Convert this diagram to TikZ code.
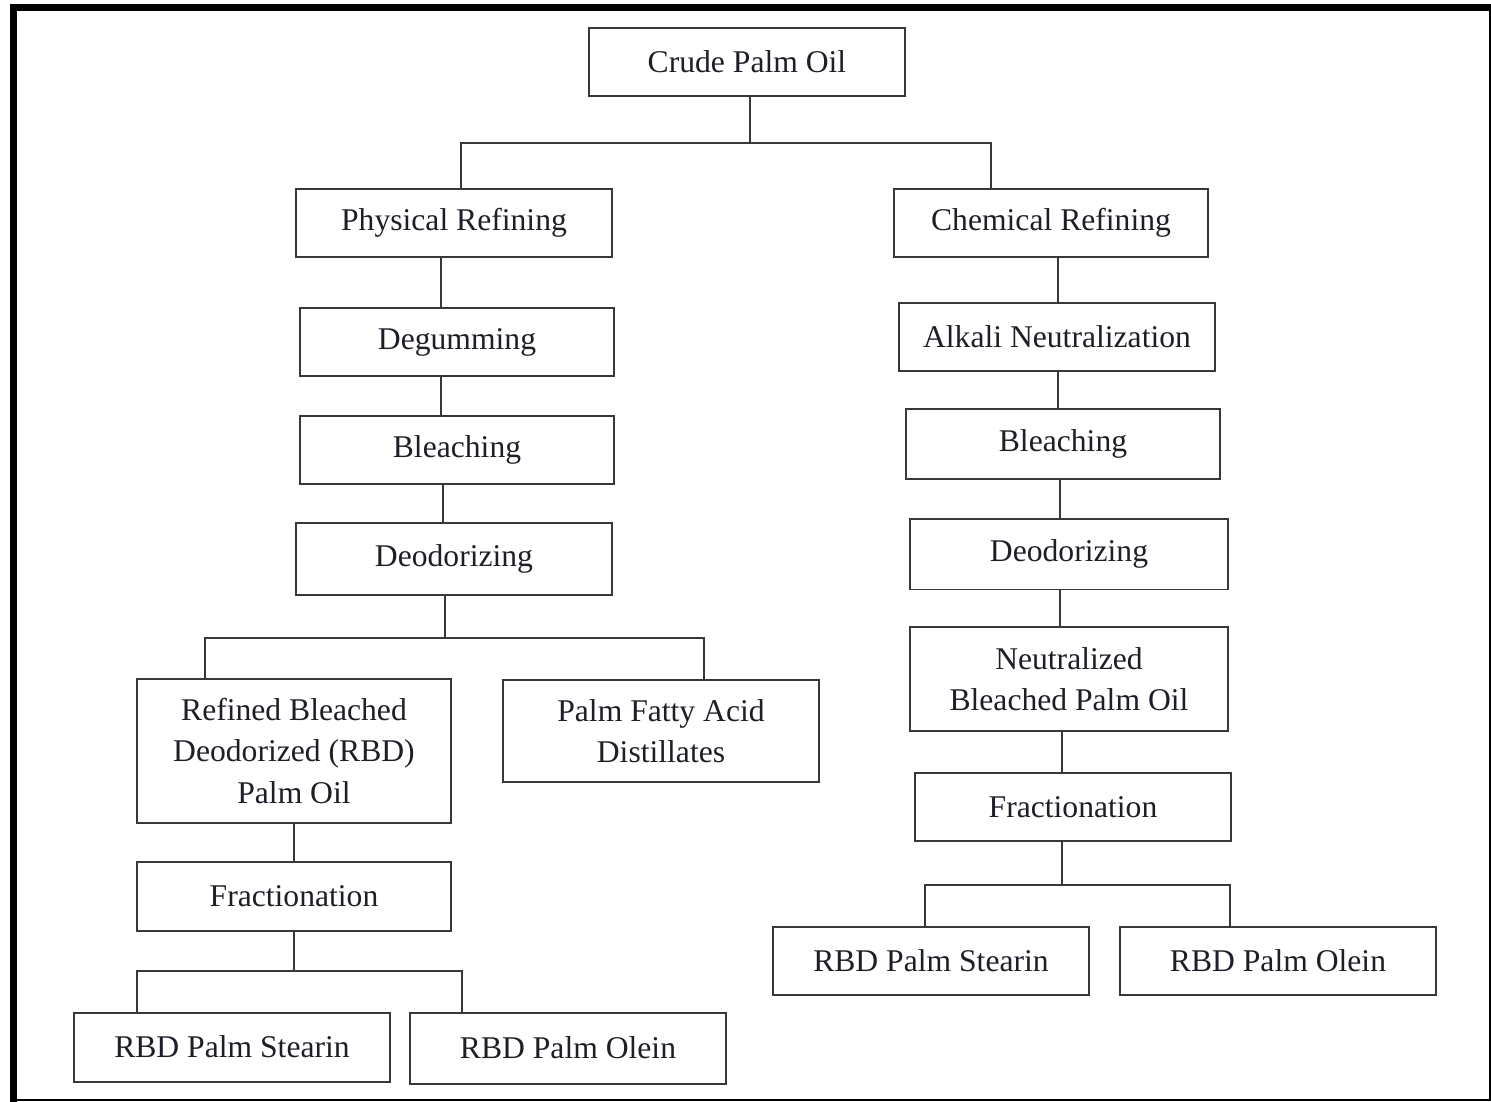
\documentclass[tikz,border=0pt]{standalone}
\usepackage{fontspec}
\setmainfont{Liberation Serif}
\definecolor{lineclr}{HTML}{383838}
\definecolor{txtclr}{HTML}{1E1E28}

\begin{document}
\begin{tikzpicture}[x=0.02cm,y=-0.02cm,
  stagebox/.style={draw=lineclr,line width=0.04cm,minimum width=6.34cm,
    minimum height=1.38cm,inner sep=0pt,align=center,text=txtclr,
    font=\fontsize{18}{23.5}\selectfont},
  link/.style={draw=lineclr,line width=0.04cm}]
\useasboundingbox (0,0) rectangle (1491,1102); % keep page size
% frame
\draw[line width=0.14cm] (13.5,1102) -- (13.5,7.5) -- (1491,7.5);
\draw[line width=0.03cm] (1490,7.5) -- (1490,1100) -- (13.5,1100);

\node[stagebox] (cpo) at (747,62) {Crude Palm Oil};
\node[stagebox] (phys) at (454,223) {Physical Refining};
\node[stagebox,minimum width=6.3cm] (chem) at (1051,223) {Chemical Refining};

% physical route
\node[stagebox,minimum width=6.3cm] (degum) at (457,342) {Degumming};
\node[stagebox,minimum width=6.3cm] (bleachL) at (457,450) {Bleaching};
\node[stagebox,minimum height=1.44cm] (deodL) at (454,559) {Deodorizing};
\node[stagebox,minimum width=6.3cm,minimum height=2.9cm] (rbd) at (294,751)
  {Refined Bleached\\Deodorized (RBD)\\Palm Oil};
\node[stagebox,minimum height=2.04cm] (pfad) at (661,731) {Palm Fatty Acid\\Distillates};
\node[stagebox,minimum width=6.3cm] (fracL) at (294,896) {Fractionation};
\node[stagebox] (stearinL) at (232,1047) {RBD Palm Stearin};
\node[stagebox,minimum height=1.42cm] (oleinL) at (568,1048) {RBD Palm Olein};

% chemical route
\node[stagebox] (alkali) at (1057,337) {Alkali Neutralization};
\node[stagebox,minimum width=6.3cm,minimum height=1.42cm] (bleachR) at (1063,444) {Bleaching};
\node[stagebox,minimum width=6.36cm,minimum height=1.42cm] (deodR) at (1069,554) {Deodorizing};
\node[stagebox,minimum width=6.36cm,minimum height=2.1cm] (nbpo) at (1069,679)
  {Neutralized\\Bleached Palm Oil};
\node[stagebox,minimum height=1.36cm] (fracR) at (1073,807) {Fractionation};
\node[stagebox,minimum height=1.36cm] (stearinR) at (931,961) {RBD Palm Stearin};
\node[stagebox,minimum height=1.36cm] (oleinR) at (1278,961) {RBD Palm Olein};

% connectors
\coordinate (j0) at (750,143);
\draw[link] (cpo.south -| j0) -- (j0);
\draw[link] (phys.north -| 461,0) |- (j0) -| (chem.north -| 991,0);

\draw[link] (phys.south -| 441,0) -- (degum.north -| 441,0);
\draw[link] (degum.south -| 441,0) -- (bleachL.north -| 441,0);
\draw[link] (bleachL.south -| 443,0) -- (deodL.north -| 443,0);
\coordinate (j1) at (445,638);
\draw[link] (deodL.south -| j1) -- (j1);
\draw[link] (rbd.north -| 205,0) |- (j1) -| (pfad.north -| 704,0);
\draw[link] (rbd.south) -- (fracL.north);
\coordinate (j2) at (294,971);
\draw[link] (fracL.south) -- (j2);
\draw[link] (stearinL.north -| 137,0) |- (j2) -| (oleinL.north -| 462,0);

\draw[link] (chem.south -| 1058,0) -- (alkali.north -| 1058,0);
\draw[link] (alkali.south -| 1058,0) -- (bleachR.north -| 1058,0);
\draw[link] (bleachR.south -| 1060,0) -- (deodR.north -| 1060,0);
\draw[link] (deodR.south -| 1060,0) -- (nbpo.north -| 1060,0);
\draw[link] (nbpo.south -| 1062,0) -- (fracR.north -| 1062,0);
\coordinate (j3) at (1062,885);
\draw[link] (fracR.south -| j3) -- (j3);
\draw[link] (stearinR.north -| 925,0) |- (j3) -| (oleinR.north -| 1230,0);
\end{tikzpicture}
\end{document}
